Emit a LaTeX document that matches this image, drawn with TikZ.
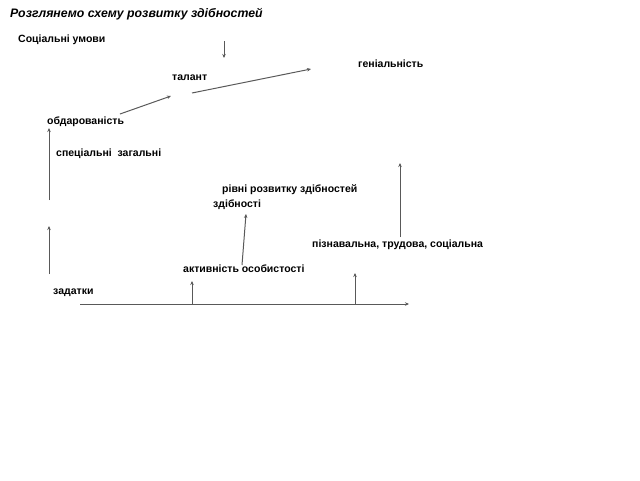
\documentclass[tikz,border=0pt]{standalone}
\usepackage{fontspec}
\setmainfont{Liberation Sans}
\usetikzlibrary{arrows.meta}

\tikzset{
  label/.style={anchor=west, inner sep=0pt, font=\fontsize{10.5}{12}\selectfont\bfseries},
  arr/.style={draw=black!65, line width=1pt, -{Stealth[length=4pt, width=3.5pt]}}
}

\begin{document}
\begin{tikzpicture}[x=1pt, y=-1pt]
  \useasboundingbox (0, 0) rectangle (640, 480);
  \node (title) [label, font=\fontsize{12.3}{14}\selectfont\bfseries\itshape] at (10, 14) {Розглянемо схему розвитку здібностей};
  \node (social) [label] at (18, 40) {Соціальні умови};
  \node (genius) [label] at (358, 64) {геніальність};
  \node (talent) [label] at (172, 78) {талант};
  \node (gifted) [label] at (47, 122) {обдарованість};
  \node (kinds)  [label] at (56, 154) {спеціальні\ \ загальні};
  \node (levels) [label] at (222, 190) {рівні розвитку здібностей};
  \node (abil)   [label] at (213, 205) {здібності};
  \node (acts)   [label] at (312, 245) {пізнавальна, трудова, соціальна};
  \node (person) [label] at (183, 269) {активність особистості};
  \node (inclin) [label] at (53, 293) {задатки};

  \coordinate (s1) at (224, 41);  \coordinate (s2) at (224, 58);
  \coordinate (t1) at (192, 93);  \coordinate (t2) at (311, 69);
  \coordinate (g1) at (120, 114); \coordinate (g2) at (171, 96);
  \coordinate (a1) at (49, 200);  \coordinate (a2) at (49, 128);
  \coordinate (b1) at (49, 274);  \coordinate (b2) at (49, 226);
  \coordinate (c1) at (242, 265); \coordinate (c2) at (246, 214);
  \coordinate (d1) at (400, 237); \coordinate (d2) at (400, 163);
  \coordinate (h1) at (80, 304);  \coordinate (h2) at (409, 304);
  \coordinate (e1) at (192, 304); \coordinate (e2) at (192, 281);
  \coordinate (f1) at (355, 304); \coordinate (f2) at (355, 273);

  \draw[arr] (s1) -- (s2);
  \draw[arr] (t1) -- (t2);
  \draw[arr] (g1) -- (g2);
  \draw[arr] (a1) -- (a2);
  \draw[arr] (b1) -- (b2);
  \draw[arr] (c1) -- (c2);
  \draw[arr] (d1) -- (d2);
  \draw[arr] (h1) -- (h2);
  \draw[arr] (e1) -- (e2);
  \draw[arr] (f1) -- (f2);
\end{tikzpicture}
\end{document}
